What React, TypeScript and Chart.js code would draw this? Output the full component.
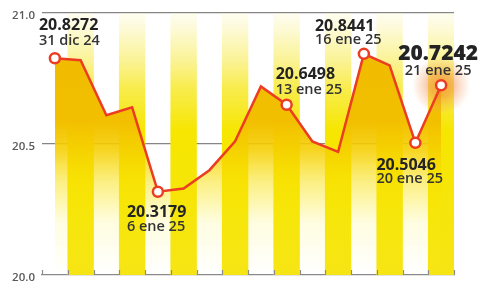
import React, { useEffect, useRef } from "react";
import { Chart, registerables } from "chart.js";

Chart.register(...registerables);

// ---- data ----
const DATES = [
  "31 dic 24", "1 ene 25", "2 ene 25", "3 ene 25", "6 ene 25", "7 ene 25",
  "8 ene 25", "9 ene 25", "10 ene 25", "13 ene 25", "14 ene 25", "15 ene 25",
  "16 ene 25", "17 ene 25", "20 ene 25", "21 ene 25",
];
const VALUES = [
  20.8272, 20.82, 20.61, 20.64, 20.3179, 20.33, 20.40, 20.51,
  20.72, 20.6498, 20.51, 20.47, 20.8441, 20.80, 20.5046, 20.7242,
];
const ANNOTATED = [0, 4, 9, 12, 14, 15];
const HIGHLIGHT = 15;
const Y_MIN = 20.0;
const Y_MAX = 21.0;
const Y_STEP = 0.5;
const STRIPES = DATES.map((_, i) => (i % 2 === 1 ? Y_MAX : null));

const FONT = "'Open Sans', 'DejaVu Sans', sans-serif";
const RED = "#ec3d22";

// label placement relative to each annotated point (styling only)
const LABEL_LAYOUT: Record<number, { dx: number; v: number; d: number; align: CanvasTextAlign; big?: boolean }> = {
  0: { dx: -16, v: -28, d: -13, align: "left" },
  4: { dx: -31, v: 25, d: 39, align: "left" },
  9: { dx: -11, v: -26, d: -11, align: "left" },
  12: { dx: -49, v: -23, d: -10, align: "left" },
  14: { dx: -39, v: 27, d: 40, align: "left" },
  15: { dx: -3, v: -25, d: -10, align: "center", big: true },
};

function areaGradient(chart: any, stops: [number, string][]) {
  const area = chart.chartArea;
  if (!area) return stops[stops.length - 1][1];
  const g = chart.ctx.createLinearGradient(0, area.top, 0, area.bottom);
  stops.forEach(([o, c]) => g.addColorStop(o, c));
  return g;
}

const glowPlugin = {
  id: "glow",
  beforeDatasetDraw(chart: any, args: any) {
    if (args.index !== 0) return;
    const pt = chart.getDatasetMeta(0).data[HIGHLIGHT];
    if (!pt) return;
    const ctx = chart.ctx;
    const g = ctx.createRadialGradient(pt.x, pt.y, 0, pt.x, pt.y, 29);
    g.addColorStop(0, "rgba(238,110,50,0.6)");
    g.addColorStop(0.4, "rgba(240,125,60,0.48)");
    g.addColorStop(0.62, "rgba(242,145,80,0.32)");
    g.addColorStop(0.85, "rgba(245,165,105,0.16)");
    g.addColorStop(1, "rgba(247,180,130,0)");
    ctx.save();
    ctx.fillStyle = g;
    ctx.beginPath();
    ctx.arc(pt.x, pt.y, 29, 0, Math.PI * 2);
    ctx.fill();
    ctx.restore();
  },
};

const axisTicksPlugin = {
  id: "axisTicks",
  afterDatasetsDraw(chart: any) {
    const x = chart.scales.x;
    const area = chart.chartArea;
    const ctx = chart.ctx;
    ctx.save();
    ctx.strokeStyle = "#8a8a8a";
    ctx.lineWidth = 1.2;
    for (let i = 0; i <= DATES.length; i++) {
      const px = Math.round(x.getPixelForValue(i - 0.5)) + 0.5;
      ctx.beginPath();
      ctx.moveTo(px, area.bottom);
      ctx.lineTo(px, area.bottom - 5);
      ctx.stroke();
    }
    ctx.restore();
  },
};

const labelPlugin = {
  id: "labels",
  afterDraw(chart: any) {
    const meta = chart.getDatasetMeta(0);
    const ctx = chart.ctx;
    ctx.save();
    ctx.textBaseline = "alphabetic";
    ANNOTATED.forEach((i) => {
      const pt = meta.data[i];
      const L = LABEL_LAYOUT[i];
      if (!pt || !L) return;
      ctx.textAlign = L.align;
      ctx.fillStyle = "#232323";
      ctx.font = L.big ? `800 21px ${FONT}` : `700 16px ${FONT}`;
      ctx.fillText(VALUES[i].toFixed(4), pt.x + L.dx, pt.y + L.v);
      ctx.fillStyle = "#333333";
      ctx.font = `600 14.5px ${FONT}`;
      ctx.fillText(DATES[i], pt.x + L.dx, pt.y + L.d);
    });
    ctx.restore();
  },
};

export default function App() {
  const ref = useRef<HTMLCanvasElement | null>(null);

  useEffect(() => {
    if (!ref.current) return;
    const chart = new Chart(ref.current, {
      type: "line",
      data: {
        labels: DATES,
        datasets: [
          {
            type: "line",
            data: VALUES,
            order: 1,
            borderColor: RED,
            borderWidth: 2.5,
            tension: 0,
            fill: "origin",
            backgroundColor: (c: any) =>
              areaGradient(c.chart, [
                [0, "rgb(240,184,0)"],
                [0.42, "rgb(242,192,0)"],
                [0.52, "rgba(245,206,0,0.88)"],
                [0.64, "rgba(248,222,0,0.5)"],
                [0.8, "rgba(250,234,0,0.12)"],
                [1, "rgba(250,240,0,0)"],
              ]),
            pointRadius: (c: any) => (ANNOTATED.includes(c.dataIndex) ? 5 : 0),
            pointHoverRadius: 0,
            pointBackgroundColor: "#ffffff",
            pointBorderColor: RED,
            pointBorderWidth: 2.5,
          },
          {
            type: "bar",
            data: STRIPES as any,
            order: 2,
            categoryPercentage: 1,
            barPercentage: 1,
            borderWidth: 0,
            backgroundColor: (c: any) =>
              areaGradient(c.chart, [
                [0, "rgba(250,244,180,0.2)"],
                [0.1, "rgba(249,240,130,0.5)"],
                [0.28, "rgba(247,233,50,0.85)"],
                [0.45, "rgb(246,230,0)"],
                [1, "rgb(246,229,20)"],
              ]),
          } as any,
        ],
      },
      options: {
        animation: false,
        responsive: false,
        devicePixelRatio: 1,
        layout: { padding: { top: 13, right: 25, left: 0, bottom: 0 } },
        plugins: { legend: { display: false }, tooltip: { enabled: false } },
        events: [],
        scales: {
          x: {
            type: "category",
            offset: true,
            ticks: { display: false },
            grid: { display: false },
            border: { display: true, color: "#8a8a8a", width: 1.2 },
            afterFit: (s: any) => {
              s.height = 9;
              s.paddingLeft = 0;
              s.paddingRight = 0;
            },
          },
          y: {
            min: Y_MIN,
            max: Y_MAX,
            z: 1,
            ticks: {
              stepSize: Y_STEP,
              padding: 7,
              labelOffset: 2.5,
              color: "#5a5a5a",
              font: { family: FONT, size: 11.5, weight: "600" },
              callback: (v: any) => Number(v).toFixed(1),
            },
            grid: {
              drawTicks: false,
              color: (c: any) => (c.tick && c.tick.value === Y_MIN ? "rgba(0,0,0,0)" : "#858585"),
              lineWidth: 1.2,
            },
            border: { display: false },
            afterFit: (s: any) => {
              s.width = 42;
              s.paddingTop = 0;
              s.paddingBottom = 0;
            },
          },
        },
      },
      plugins: [glowPlugin, axisTicksPlugin, labelPlugin],
    } as any);
    return () => chart.destroy();
  }, []);

  return (
    <div style={{ position: "fixed", left: 0, top: 0, width: 479, height: 284, background: "#ffffff" }}>
      <canvas ref={ref} width={479} height={284} style={{ display: "block" }} />
    </div>
  );
}
